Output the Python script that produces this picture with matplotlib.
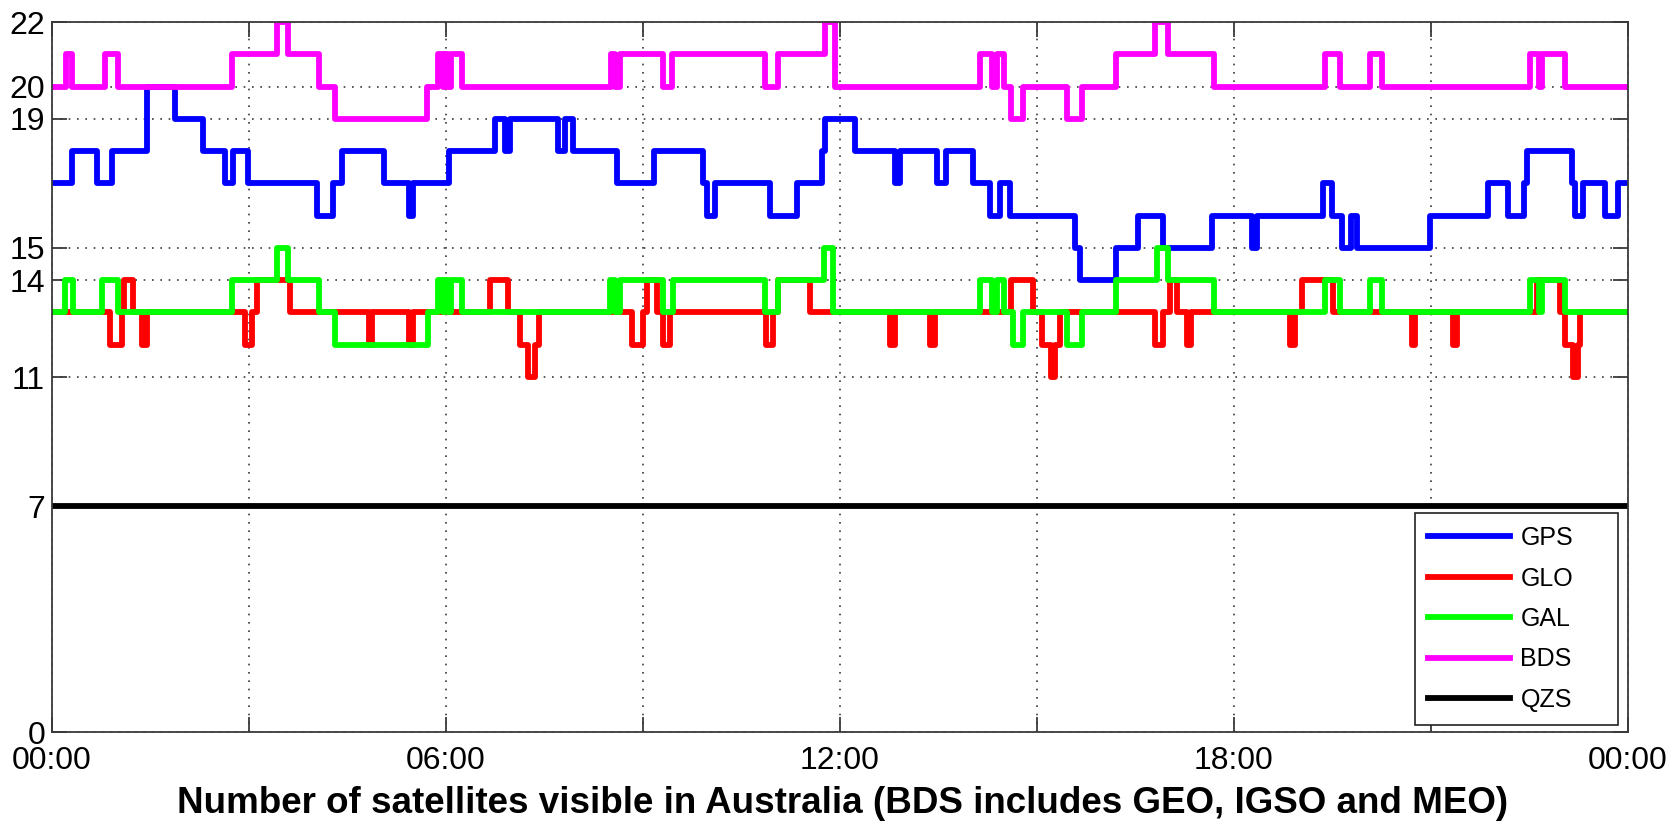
import matplotlib
matplotlib.use('Agg')
import matplotlib.pyplot as plt
from matplotlib import font_manager

# change times (hours of day) and satellite counts after each change
gps_t = [0, 0.30, 0.68, 0.91, 1.44, 1.87, 2.30, 2.63, 2.76, 2.99,
         4.03, 4.28, 4.41, 5.05, 5.43, 5.50, 6.04, 6.75, 6.90, 6.98,
         7.71, 7.81, 7.94, 8.60, 9.16, 9.92, 9.97, 10.10, 10.93, 11.34,
         11.72, 11.77, 12.23, 12.84, 12.91, 13.47, 13.62, 14.03, 14.28, 14.44,
         14.59, 15.58, 15.66, 16.21, 16.54, 16.92, 17.66, 18.27, 18.35, 19.36,
         19.49, 19.64, 19.78, 19.88, 20.99, 21.87, 22.18, 22.41, 22.46, 23.14,
         23.20, 23.32, 23.65, 23.85]
gps_n = [17, 18, 17, 18, 20, 19, 18, 17, 18, 17,
         16, 17, 18, 17, 16, 17, 18, 19, 18, 19,
         18, 19, 18, 17, 18, 17, 16, 17, 16, 17,
         18, 19, 18, 17, 18, 17, 18, 17, 16, 17,
         16, 15, 14, 15, 16, 15, 16, 15, 16, 17,
         16, 15, 16, 15, 16, 17, 16, 17, 18, 17,
         16, 17, 16, 17]

glo_t = [0, 0.88, 1.06, 1.09, 1.24, 1.37, 1.44, 2.94, 3.04, 3.12,
         3.62, 4.82, 4.87, 5.43, 5.50, 6.67, 6.95, 7.13, 7.25, 7.36,
         7.41, 8.83, 9.00, 9.06, 9.21, 9.31, 9.41, 10.88, 10.98, 11.06,
         11.55, 12.76, 12.84, 13.37, 13.44, 14.61, 14.94, 15.07, 15.22, 15.27,
         15.35, 16.80, 16.92, 17.03, 17.13, 17.28, 17.35, 18.85, 18.93, 19.03,
         19.51, 20.71, 20.76, 21.34, 21.39, 22.62, 22.97, 23.04, 23.16, 23.24,
         23.27]
glo_n = [13, 12, 13, 14, 13, 12, 13, 12, 13, 14,
         13, 12, 13, 12, 13, 14, 13, 12, 11, 12,
         13, 12, 13, 14, 13, 12, 13, 12, 13, 14,
         13, 12, 13, 12, 13, 14, 13, 12, 11, 12,
         13, 12, 13, 14, 13, 12, 13, 12, 13, 14,
         13, 12, 13, 12, 13, 14, 13, 12, 11, 12,
         13]

gal_t = [0, 0.20, 0.32, 0.76, 1.01, 2.74, 3.42, 3.60, 4.06, 4.31,
         5.73, 5.88, 5.95, 5.98, 6.03, 6.07, 6.24, 8.50, 8.58, 8.65,
         9.31, 9.45, 10.86, 11.06, 11.75, 11.90, 14.13, 14.31, 14.39, 14.49,
         14.63, 14.79, 15.45, 15.68, 16.21, 16.82, 17.00, 17.69, 19.39, 19.61,
         20.07, 20.25, 22.51, 22.64, 22.69, 23.04]
gal_n = [13, 14, 13, 14, 13, 14, 15, 14, 13, 12,
         13, 14, 13, 14, 13, 14, 13, 14, 13, 14,
         13, 14, 13, 14, 15, 13, 14, 13, 14, 13,
         12, 13, 12, 13, 14, 15, 14, 13, 14, 13,
         14, 13, 14, 13, 14, 13]

bds_t = [0, 0.21, 0.30, 0.81, 1.01, 2.74, 3.42, 3.60, 4.06, 4.31,
         5.71, 5.88, 5.95, 5.98, 6.03, 6.07, 6.24, 8.52, 8.58, 8.65,
         9.31, 9.44, 10.86, 11.06, 11.77, 11.93, 14.13, 14.31, 14.39, 14.49,
         14.61, 14.79, 15.45, 15.68, 16.21, 16.80, 17.00, 17.69, 19.39, 19.61,
         20.07, 20.25, 22.51, 22.64, 22.69, 23.04]
bds_n = [20, 21, 20, 21, 20, 21, 22, 21, 20, 19,
         20, 21, 20, 21, 20, 21, 20, 21, 20, 21,
         20, 21, 20, 21, 22, 20, 21, 20, 21, 20,
         19, 20, 19, 20, 21, 22, 21, 20, 21, 20,
         21, 20, 21, 20, 21, 20]

qzs_t = [0]
qzs_n = [7]

systems = ['GPS', 'GLO', 'GAL', 'BDS', 'QZS']
y_ticks = [0, 7, 11, 14, 15, 19, 20, 22]
x_ticks = [0, 3, 6, 9, 12, 15, 18, 21, 24]
x_labels = ['00:00', '', '06:00', '', '12:00', '', '18:00', '', '00:00']

series = [(gps_t, gps_n, '#0000ff'),
          (glo_t, glo_n, '#ff0000'),
          (gal_t, gal_n, '#00ff00'),
          (bds_t, bds_n, '#ff00ff'),
          (qzs_t, qzs_n, '#000000')]


def pick_tick_font():
    # prefer a narrow sans face for the tick numbers if one is installed
    names = {f.name for f in font_manager.fontManager.ttflist}
    for cand in ['Liberation Sans Narrow', 'Arial Narrow', 'Nimbus Sans Narrow']:
        if cand in names:
            return [cand, 'DejaVu Sans'], 26
    return ['Liberation Sans', 'DejaVu Sans'], 23


tick_font, tick_size = pick_tick_font()

fig = plt.figure(figsize=(16.81, 8.24), dpi=100)
ax = fig.add_axes([52 / 1681, 1 - 732 / 824, 1576 / 1681, 710 / 824])

for (t, n, c), name in zip(series, systems):
    # close each step curve at the end of the day
    ax.plot(list(t) + [24], list(n) + [n[-1]], drawstyle='steps-post',
            color=c, lw=4.2, label=name)

ax.set_xlim(0, 24)
ax.set_ylim(0, 22)
ax.set_xticks(x_ticks)
ax.set_xticklabels(x_labels)
ax.set_yticks(y_ticks)
ax.grid(True, color='#3a3a3a', linestyle=(0, (1, 4)), linewidth=1.2)
ax.tick_params(direction='in', length=11, width=1.3, color='#3a3a3a',
               top=True, right=True, labelsize=tick_size)
ax.tick_params(axis='x', pad=10)
ax.tick_params(axis='y', pad=5)
for lab in ax.get_xticklabels() + ax.get_yticklabels():
    lab.set_family(tick_font)
for sp in ax.spines.values():
    sp.set_color('#3a3a3a')
    sp.set_linewidth(1.3)

leg = ax.legend(loc='lower left',
                bbox_to_anchor=((1415 - 52) / 1576, 7 / 710, 203 / 1576, 0.3),
                mode='expand', borderaxespad=0, fancybox=False, framealpha=1,
                edgecolor='#222222', handlelength=3.3, handletextpad=0.4,
                labelspacing=0.66, borderpad=0.52,
                prop={'family': ['Liberation Sans', 'DejaVu Sans'], 'size': 18})
leg.get_frame().set_linewidth(1.2)

fig.text(843 / 1681, 1 - 813 / 824,
         'Number of satellites visible in Australia (BDS includes GEO, IGSO and MEO)',
         ha='center', va='baseline', fontsize=26.5, fontweight='bold',
         family=['Liberation Sans', 'DejaVu Sans'])

fig.savefig('out.png', dpi=100)
